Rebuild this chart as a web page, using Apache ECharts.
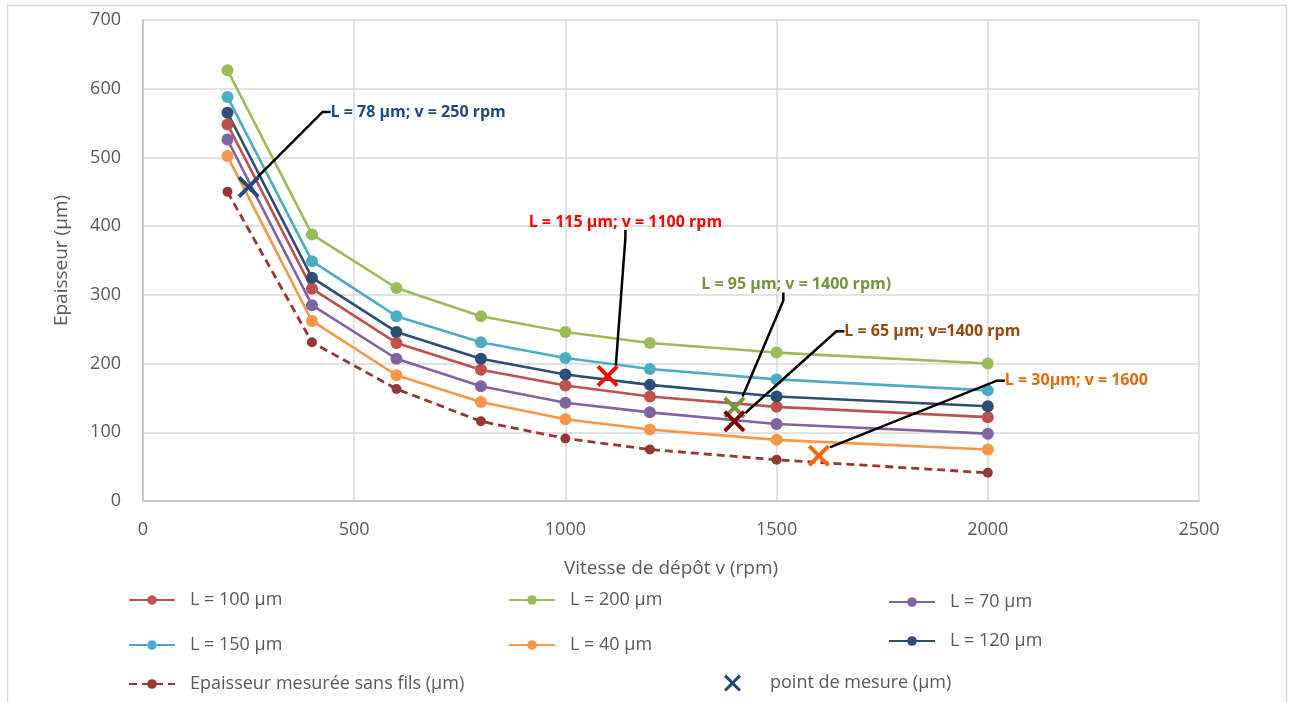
<!DOCTYPE html>
<html>
<head>
<meta charset="utf-8">
<script src="https://cdn.jsdelivr.net/npm/echarts@6/dist/echarts.min.js"></script>
<style>
html,body{margin:0;padding:0;background:#fff;}
#chart{width:1289px;height:702px;}
</style>
</head>
<body>
<div id="chart"></div>
<script>
// donnees
var vitesse = [200, 400, 600, 800, 1000, 1200, 1500, 2000];
var l100 = [548, 309, 230, 191, 168, 152, 137, 122];
var l200 = [627, 388, 310, 269, 246, 230, 216, 200];
var l70 = [526, 285, 207, 167, 143, 129, 112, 98];
var l150 = [588, 349, 269, 231, 208, 192, 177, 161];
var l40 = [502, 262, 183, 144, 119, 104, 89, 75];
var l120 = [565, 325, 246, 207, 184, 169, 152, 138];
var sansFils = [450, 231, 163, 116, 91, 75, 60, 41];

var mesureV = [250, 1100, 1400, 1400, 1600];
var mesureE = [457, 182, 136, 116, 66];
var mesureTxt = ["L = 78 µm; v = 250 rpm", "L = 115 µm; v = 1100 rpm", "L = 95 µm; v = 1400 rpm)", "L = 65 µm; v=1400 rpm", "L = 30µm; v = 1600"];

var font = "'Open Sans', 'Noto Sans', sans-serif";
var grisTxt = "#595959";
var croix = "path://M0,2.5L2.5,0L10,7.5L17.5,0L20,2.5L12.5,10L20,17.5L17.5,20L10,12.5L2.5,20L0,17.5L7.5,10Z";

function paires(ys){
    var out = [];
    for (var i = 0; i < vitesse.length; i++) out.push([vitesse[i], ys[i]]);
    return out;
}

function courbe(nom, ys, couleur){
    return {
        name: nom,
        type: 'line',
        data: paires(ys),
        symbol: 'circle',
        symbolSize: 12,
        lineStyle: {color: couleur, width: 2.6},
        itemStyle: {color: couleur},
        z: 3
    };
}

// style de chaque point de mesure : couleur croix, couleur texte, decalage etiquette
// marge : blancs invisibles avant/apres le texte pour orienter le trait de rappel
var styleMesure = [
    {c: '#1F497D', t: '#1F497D', pos: [93, -64], marge: null},
    {c: '#FF0000', t: '#FF0000', pos: [-68, -143], marge: null},
    {c: '#77933C', t: '#77933C', pos: [-52, -112], marge: [30, 20]},
    {c: '#7F0000', t: '#984807', pos: [121, -79], marge: null},
    {c: '#FF6600', t: '#E36C09', pos: [197, -64], marge: null}
];
var pointsMesure = [];
for (var k = 0; k < mesureV.length; k++) {
    var st = styleMesure[k];
    var txtStyle = {color: st.t, fontWeight: 'bold', fontSize: 16, fontFamily: font};
    var fmt = mesureTxt[k];
    var rich = {};
    if (st.marge) {
        fmt = '{a| }{t|' + mesureTxt[k] + '}{b| }';
        rich = {a: {width: st.marge[0]}, t: txtStyle, b: {width: st.marge[1]}};
    }
    pointsMesure.push({
        value: [mesureV[k], mesureE[k]],
        itemStyle: {color: st.c, opacity: 1},
        label: {
            show: true,
            formatter: fmt,
            rich: rich,
            position: st.pos,
            align: 'left',
            verticalAlign: 'middle',
            color: st.t,
            fontWeight: 'bold',
            fontSize: 16,
            fontFamily: font
        }
    });
}

function legende(nom, left, top, w, h, pad){
    return {
        data: [nom],
        left: left,
        top: top,
        padding: 0,
        itemWidth: w || 46,
        itemHeight: h || 12,
        textStyle: {fontSize: 18, color: grisTxt, fontFamily: font, padding: [0, 0, 0, pad || 10]}
    };
}

var mychart = echarts.init(document.getElementById('chart'));
mychart.setOption({
    animation: false,
    backgroundColor: '#fff',
    graphic: [{
        type: 'rect',
        left: 5, top: 3,
        shape: {width: 1279, height: 720},
        style: {fill: 'none', stroke: '#D9D9D9', lineWidth: 1.5},
        silent: true
    }],
    grid: {left: 143, right: 90, top: 20, bottom: 201},
    xAxis: {
        type: 'value',
        min: 0, max: 2500, interval: 500,
        name: 'Vitesse de dépôt v (rpm)',
        nameLocation: 'middle',
        nameGap: 58,
        nameTextStyle: {fontSize: 19, color: grisTxt, fontFamily: font},
        axisLine: {lineStyle: {color: '#BFBFBF', width: 1.5}},
        axisTick: {show: false},
        axisLabel: {fontSize: 18, color: grisTxt, fontFamily: font, margin: 20,
            formatter: function(v){ return String(v); }},
        splitLine: {lineStyle: {color: '#D9D9D9', width: 1.5}}
    },
    yAxis: {
        type: 'value',
        min: 0, max: 700, interval: 100,
        name: 'Epaisseur (µm)',
        nameLocation: 'middle',
        nameGap: 72,
        nameTextStyle: {fontSize: 19, color: grisTxt, fontFamily: font},
        axisLine: {show: true, lineStyle: {color: '#BFBFBF', width: 1.5}},
        axisTick: {show: false},
        axisLabel: {fontSize: 18, color: grisTxt, fontFamily: font, margin: 22},
        splitLine: {lineStyle: {color: '#D9D9D9', width: 1.5}}
    },
    legend: [
        legende('L = 100 µm', 128, 591),
        legende('L = 200 µm', 508, 591),
        legende('L = 70 µm', 888, 593),
        legende('L = 150 µm', 128, 636),
        legende('L = 40 µm', 508, 636),
        legende('L = 120 µm', 888, 632),
        legende('Epaisseur mesurée sans fils (µm)', 128, 675),
        legende('point de mesure (µm)', 724, 674, 17, 17, 24)
    ],
    series: [
        courbe('L = 100 µm', l100, '#C0504D'),
        courbe('L = 200 µm', l200, '#9BBB59'),
        courbe('L = 70 µm', l70, '#8064A2'),
        courbe('L = 150 µm', l150, '#4BACC6'),
        courbe('L = 40 µm', l40, '#F79646'),
        courbe('L = 120 µm', l120, '#2C4D75'),
        {
            name: 'Epaisseur mesurée sans fils (µm)',
            type: 'line',
            data: paires(sansFils),
            symbol: 'circle',
            symbolSize: 10,
            lineStyle: {color: '#953735', width: 2.8, type: [8, 5]},
            itemStyle: {color: '#953735'},
            z: 3
        },
        {
            name: 'point de mesure (µm)',
            type: 'scatter',
            symbol: croix,
            symbolSize: 22,
            itemStyle: {color: '#1F497D', opacity: 1},
            data: pointsMesure,
            labelLine: {show: true, length2: 8, lineStyle: {color: '#000', width: 2.5}},
            z: 5
        }
    ]
});
</script>
</body>
</html>
